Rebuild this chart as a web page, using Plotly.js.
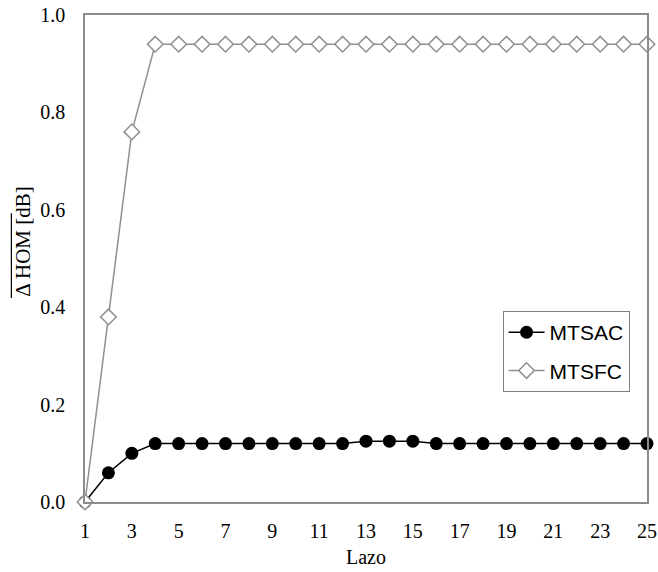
<!DOCTYPE html>
<html><head><meta charset="utf-8">
<script src="https://cdn.plot.ly/plotly-3.0.1.min.js"></script>
<style>body{margin:0;background:#fff}#c{width:658px;height:572px}</style>
</head><body><div id="c"></div>
<script>
const lazo = [1,2,3,4,5,6,7,8,9,10,11,12,13,14,15,16,17,18,19,20,21,22,23,24,25];
const mtsac = [0,0.06,0.10,0.12,0.12,0.12,0.12,0.12,0.12,0.12,0.12,0.12,0.125,0.125,0.125,0.12,0.12,0.12,0.12,0.12,0.12,0.12,0.12,0.12,0.12];
const mtsfc = [0,0.38,0.76,0.94,0.94,0.94,0.94,0.94,0.94,0.94,0.94,0.94,0.94,0.94,0.94,0.94,0.94,0.94,0.94,0.94,0.94,0.94,0.94,0.94,0.94];
const xTicks = [1,3,5,7,9,11,13,15,17,19,21,23,25];
const yTicks = [0,0.2,0.4,0.6,0.8,1.0];

const serif = "Liberation Serif, Times New Roman, serif";
const traces = [
  {x: lazo, y: mtsac, name: 'MTSAC', legendgroup: 'a', mode: 'lines+markers', cliponaxis: false,
   line: {color: '#000', width: 1.5},
   marker: {symbol: 'circle', size: 13, color: '#000'}},
  {x: lazo, y: mtsfc, name: 'MTSFC', legendgroup: 'b', mode: 'lines+markers', cliponaxis: false,
   line: {color: '#8f8f8f', width: 1.5},
   marker: {symbol: 'diamond', size: 12, color: '#fff', line: {color: '#8f8f8f', width: 1.5}}}
];
const layout = {
  width: 658, height: 572,
  margin: {l: 85, r: 11, t: 15, b: 70},
  paper_bgcolor: '#fff', plot_bgcolor: '#fff',
  showlegend: true,
  legend: {x: 0.743, y: 0.392, xanchor: 'left', yanchor: 'top',
    bordercolor: '#7f7f7f', borderwidth: 1, bgcolor: '#fff',
    font: {family: 'Liberation Sans, Arial, sans-serif', size: 21, color: '#000'},
    traceorder: 'grouped', tracegroupgap: 8, itemwidth: 36},
  xaxis: {range: [1, 25], tickvals: xTicks, ticktext: xTicks.map(String),
    showgrid: false, zeroline: false, showline: true, linecolor: '#8c8c8c', linewidth: 1.5,
    mirror: true, ticks: 'outside', ticklen: 10, tickcolor: 'rgba(0,0,0,0)',
    ticklabeloverflow: 'allow',
    tickfont: {family: serif, size: 20, color: '#000'},
    title: {text: 'Lazo', font: {family: serif, size: 20, color: '#000'}, standoff: 9}},
  yaxis: {range: [0, 1], tickvals: yTicks, ticktext: yTicks.map(v => v.toFixed(1)),
    showgrid: false, zeroline: false, showline: true, linecolor: '#8c8c8c', linewidth: 1.5,
    mirror: true, ticks: 'outside', ticklen: 14, tickcolor: 'rgba(0,0,0,0)',
    ticklabeloverflow: 'allow',
    tickfont: {family: serif, size: 20, color: '#000'}},
  annotations: [{
    text: 'Δ HOM [dB]', xref: 'paper', yref: 'paper', x: -0.11, y: 0.535,
    xanchor: 'center', yanchor: 'middle', textangle: -90, showarrow: false,
    font: {family: serif, size: 21, color: '#000'}
  }],
  shapes: [{
    type: 'line', xref: 'paper', yref: 'paper',
    x0: -0.131, x1: -0.131, y0: 0.419, y1: 0.593,
    line: {color: '#000', width: 1.2}
  }]
};
Plotly.newPlot('c', traces, layout, {displayModeBar: false});
</script>
</body></html>
